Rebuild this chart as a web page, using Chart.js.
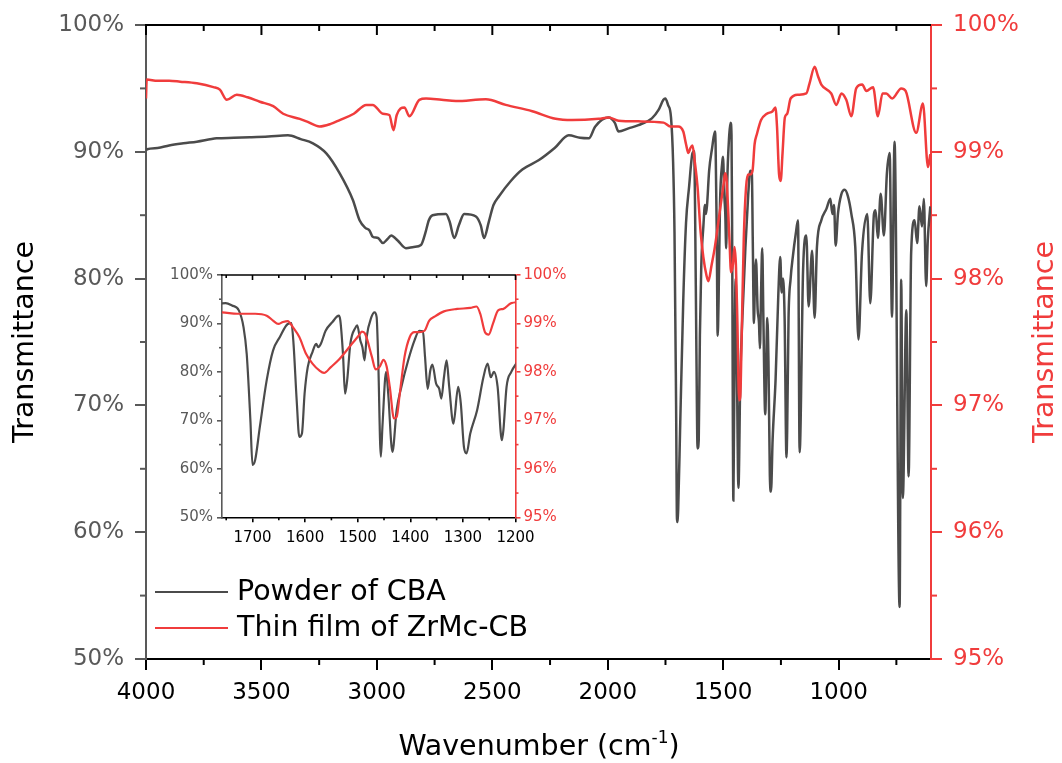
<!DOCTYPE html>
<html>
<head>
<meta charset="utf-8">
<script src="https://cdn.jsdelivr.net/npm/chart.js@4.4.1/dist/chart.umd.min.js"></script>
<style>
  body { margin: 0; background: #fff; }
  #wrap { position: relative; width: 1062px; height: 763px; }
  #main { position: absolute; left: 0; top: 0; }
  #inset { position: absolute; left: 160px; top: 262px; }
</style>
</head>
<body>
<div id="wrap">
  <canvas id="main" width="1062" height="763"></canvas>
  <canvas id="inset" width="420" height="290"></canvas>
</div>
<script>
// ---- data ----
const seriesNames = ["Powder of CBA", "Thin film of ZrMc-CB"];

const cbaWavenumber = [4000, 3996, 3950, 3900, 3838, 3780, 3694, 3620, 3550, 3470, 3385, 3330, 3277, 3219, 3161, 3104, 3075, 3050, 3032, 3018, 2995, 2974, 2955, 2938, 2910, 2874, 2840, 2809, 2790, 2775, 2759, 2701, 2685, 2665, 2645, 2622, 2571, 2550, 2536, 2515, 2495, 2471, 2420, 2370, 2298, 2230, 2169, 2120, 2082, 2054, 1996, 1970, 1953, 1910, 1867, 1809, 1780, 1759,
  1751, 1739, 1726, 1717, 1711, 1704, 1700, 1695, 1686, 1673, 1661, 1648, 1633, 1626, 1622, 1616, 1611, 1606, 1601, 1595, 1586, 1579, 1575, 1570, 1561, 1548, 1536, 1533, 1528, 1524, 1520, 1514, 1504, 1501, 1495, 1491, 1487, 1483, 1474, 1468, 1464, 1461, 1456, 1453, 1446, 1442, 1434, 1426, 1417, 1404, 1392, 1383, 1376, 1372, 1367, 1362, 1358, 1351, 1345, 1341, 1336, 1331, 1326, 1318, 1309, 1304, 1298, 1293, 1286, 1273, 1261, 1253, 1247, 1241, 1234, 1226, 1223, 1217, 1208,
  1198, 1186, 1176, 1169, 1154, 1140, 1130, 1115, 1104, 1094, 1075, 1053, 1036, 1027, 1020, 1013, 1003, 989, 974, 960, 945, 928, 914, 899, 876, 863, 847, 840, 830, 818, 804, 791, 779, 769, 758, 736, 729, 722, 707, 697, 686, 671, 660, 650, 639, 631, 621, 614, 603];
const cbaTransmittance = [90.1, 90.2, 90.3, 90.5, 90.67, 90.8, 91.06, 91.1, 91.14, 91.2, 91.3, 91.0, 90.67, 89.88, 88.3, 86.2, 84.6, 84.0, 83.8, 83.3, 83.2, 82.8, 83.1, 83.4, 83.0, 82.4, 82.5, 82.65, 83.6, 84.6, 85.0, 85.1, 84.5, 83.2, 84.2, 85.1, 84.9, 84.2, 83.2, 84.5, 85.8, 86.5, 87.7, 88.6, 89.35, 90.3, 91.3, 91.1, 91.06, 92.0, 92.7, 92.3, 91.6, 91.85, 92.1, 92.64, 93.3, 94.1,
  94.2, 93.7, 92.7, 89.2, 83.7, 70.0, 60.8, 61.8, 68.7, 78.3, 84.4, 87.2, 89.9, 90.05, 85.8, 74.1, 66.6, 67.3, 75.5, 81.0, 84.1, 85.8, 85.1, 85.8, 88.5, 90.3, 91.6, 90.6, 83.7, 75.5, 78.3, 85.8, 89.2, 89.6, 86.5, 85.1, 82.4, 87.2, 91.3, 92.3, 91.3, 82.4, 62.5, 68.7, 80.0, 75.5, 63.5, 72.1, 76.9, 82.4, 86.5, 88.5, 88.4, 83.1, 76.5, 80.3, 81.5, 77.6, 76.5, 74.5, 78.9, 82.4, 76.9, 69.3, 76.9, 73.5, 64.5, 63.2, 67.3, 72.1, 78.9, 81.7, 78.9, 80.0, 76.9, 65.9, 68.0, 76.9, 80.0,
  81.8, 83.5, 84.6, 66.3, 80.7, 83.4, 77.8, 82.2, 76.9, 82.5, 84.6, 85.5, 86.3, 85.1, 85.8, 82.6, 85.1, 86.6, 87.0, 86.5, 85.1, 82.5, 75.2, 82.0, 85.1, 78.05, 85.1, 85.4, 83.2, 86.7, 83.4, 88.3, 89.9, 77.0, 90.8, 54.1, 79.9, 62.7, 77.5, 64.4, 82.0, 84.6, 82.8, 85.7, 84.1, 86.3, 79.4, 83.0, 85.7];

const filmWavenumber = [4000, 3997, 3950, 3900, 3852, 3780, 3708, 3680, 3650, 3607, 3560, 3507, 3449, 3406, 3334, 3305, 3248, 3200, 3161, 3100, 3046, 3018, 2974, 2946, 2928, 2914, 2881, 2859, 2816, 2787, 2720, 2658, 2528, 2442, 2327, 2226, 2155, 2039, 1996, 1953, 1867,
  1758, 1729, 1695, 1673, 1661, 1651, 1642, 1633, 1623, 1611, 1598, 1586, 1573, 1564, 1551, 1536, 1511, 1498, 1492, 1486, 1473, 1466, 1458, 1451, 1445, 1439, 1431, 1426, 1420, 1411, 1401, 1392, 1383, 1373, 1364, 1354, 1336, 1311, 1286, 1274, 1267, 1258, 1251, 1243, 1233, 1223, 1208,
  1176, 1140, 1126, 1104, 1090, 1075, 1032, 1010, 988, 967, 945, 924, 898, 880, 851, 830, 810, 794, 768, 729, 710, 664, 635, 613, 603];
const filmTransmittance = [99.42, 99.57, 99.56, 99.56, 99.553, 99.54, 99.51, 99.49, 99.41, 99.45, 99.43, 99.395, 99.36, 99.30, 99.26, 99.24, 99.20, 99.22, 99.25, 99.30, 99.37, 99.37, 99.30, 99.29, 99.17, 99.29, 99.35, 99.28, 99.41, 99.42, 99.41, 99.40, 99.414, 99.37, 99.32, 99.26, 99.25, 99.26, 99.27, 99.245, 99.24,
  99.23, 99.20, 99.20, 99.16, 99.06, 98.99, 99.03, 99.05, 98.92, 98.72, 98.37, 98.17, 98.03, 97.98, 98.10, 98.25, 98.58, 98.75, 98.83, 98.79, 98.31, 98.05, 98.11, 98.25, 98.11, 97.69, 97.04, 97.07, 97.55, 98.31, 98.72, 98.82, 98.82, 98.85, 99.06, 99.14, 99.25, 99.30, 99.32, 99.35, 99.20, 98.82, 98.77, 98.99, 99.27, 99.30, 99.42,
  99.45, 99.46, 99.54, 99.67, 99.60, 99.53, 99.46, 99.37, 99.46, 99.41, 99.28, 99.50, 99.53, 99.48, 99.51, 99.28, 99.46, 99.46, 99.42, 99.50, 99.48, 99.15, 99.38, 98.88, 98.98];

const mainXTicks = [4000, 3500, 3000, 2500, 2000, 1500, 1000];
const mainXMinor = [3750, 3250, 2750, 2250, 1750, 1250, 750];
const mainYTicks = [50, 60, 70, 80, 90, 100];
const mainY2Ticks = [95, 96, 97, 98, 99, 100];
const insetXTicks = [1700, 1600, 1500, 1400, 1300, 1200];
const insetXMinor = [1750, 1650, 1550, 1450, 1350, 1250];

const FONT = '"DejaVu Sans", sans-serif';
const INK = '#4b4b4b';
const GRAY = '#595959';
const RED = '#f03c3c';

function pts(xs, ys) {
  return xs.map((v, i) => ({ x: v, y: ys[i] }));
}
function halves(ticks) {
  return ticks.slice(1).map((v, i) => (v + ticks[i]) / 2);
}

// minor ticks + top frame, drawn from the chart's own scales
const frameTicks = {
  id: 'frameTicks',
  afterDraw(chart, args, o) {
    const { ctx, chartArea: a, scales } = chart;
    const seg = (x1, y1, x2, y2, c) => {
      ctx.strokeStyle = c;
      ctx.beginPath(); ctx.moveTo(x1, y1); ctx.lineTo(x2, y2); ctx.stroke();
    };
    ctx.save();
    ctx.lineWidth = o.lineWidth;
    seg(a.left - 1, a.top, a.right, a.top, '#000');
    o.xMajor.forEach(v => {
      const p = scales.x.getPixelForValue(v);
      seg(p, a.top, p, a.top + o.major, '#000');
    });
    o.xMinor.forEach(v => {
      const p = scales.x.getPixelForValue(v);
      seg(p, a.top, p, a.top + o.minor, '#000');
      seg(p, a.bottom, p, a.bottom + o.minor, '#000');
    });
    halves(o.yTicks).forEach(v => {
      const p = scales.y.getPixelForValue(v);
      seg(a.left - o.minor, p, a.left, p, GRAY);
    });
    halves(o.y2Ticks).forEach(v => {
      const p = scales.y2.getPixelForValue(v);
      seg(a.right, p, a.right + o.minor, p, RED);
    });
    ctx.restore();
  }
};

const legendBox = {
  id: 'legendBox',
  afterDraw(chart, args, o) {
    const ctx = chart.ctx;
    ctx.save();
    ctx.font = o.size + 'px ' + FONT;
    ctx.textBaseline = 'middle';
    chart.data.datasets.forEach((ds, i) => {
      const y = o.rows[i];
      ctx.strokeStyle = ds.borderColor;
      ctx.lineWidth = 2;
      ctx.beginPath(); ctx.moveTo(o.x0, y); ctx.lineTo(o.x1, y); ctx.stroke();
      ctx.fillStyle = '#000';
      ctx.fillText(ds.label, o.textX, y + 1);
    });
    ctx.restore();
  }
};

// x title with a raised "-1", right title reading upwards like the left one
const axisTitles = {
  id: 'axisTitles',
  afterDraw(chart, args, o) {
    const ctx = chart.ctx;
    ctx.save();
    ctx.fillStyle = '#000';
    ctx.textBaseline = 'alphabetic';
    const big = o.size + 'px ' + FONT, small = Math.round(o.size * 0.6) + 'px ' + FONT;
    ctx.font = big;
    const w1 = ctx.measureText(o.text).width, w3 = ctx.measureText(')').width;
    ctx.font = small;
    const w2 = ctx.measureText(o.sup).width;
    let x = o.cx - (w1 + w2 + w3) / 2;
    ctx.font = big; ctx.fillText(o.text, x, o.baseline); x += w1;
    ctx.font = small; ctx.fillText(o.sup, x, o.baseline - o.size * 0.42); x += w2;
    ctx.font = big; ctx.fillText(')', x, o.baseline);

    const a = chart.chartArea;
    ctx.translate(o.rightX, (a.top + a.bottom) / 2);
    ctx.rotate(-Math.PI / 2);
    ctx.font = big;
    ctx.fillStyle = RED;
    ctx.textAlign = 'center';
    ctx.textBaseline = 'middle';
    ctx.fillText(o.yText, 0, 0);
    ctx.restore();
  }
};

function fixedTicks(list) {
  return s => { s.ticks = list.map(v => ({ value: v })); };
}

function makeChart(canvas, cfg) {
  return new Chart(canvas, {
    type: 'line',
    data: {
      datasets: [
        { label: seriesNames[0], data: pts(cbaWavenumber, cbaTransmittance), yAxisID: 'y',
          borderColor: INK, borderWidth: cfg.lw, pointRadius: 0, cubicInterpolationMode: 'monotone', order: 1 },
        { label: seriesNames[1], data: pts(filmWavenumber, filmTransmittance), yAxisID: 'y2',
          borderColor: RED, borderWidth: cfg.lw, pointRadius: 0, cubicInterpolationMode: 'monotone', order: 0 }
      ]
    },
    options: {
      responsive: false,
      animation: false,
      events: [],
      layout: { padding: { top: cfg.top, left: 0, right: 0, bottom: 0 } },
      plugins: {
        legend: { display: false },
        tooltip: { enabled: false },
        frameTicks: cfg.frame,
        legendBox: cfg.legend,
        axisTitles: cfg.titles
      },
      scales: {
        x: {
          type: 'linear', reverse: true, min: cfg.xMin, max: cfg.xMax, position: 'bottom',
          afterBuildTicks: fixedTicks(cfg.xTicks),
          afterFit: s => { s.height = cfg.xH; },
          ticks: { font: { family: FONT, size: cfg.fs }, color: '#000', padding: cfg.xPad, maxRotation: 0, autoSkip: false, callback: v => String(v) },
          grid: { drawOnChartArea: false, drawTicks: true, tickLength: cfg.major, color: '#000', lineWidth: cfg.axw },
          border: { color: '#000', width: cfg.axw }
        },
        y: {
          position: 'left', min: 50, max: 100,
          afterBuildTicks: fixedTicks(mainYTicks),
          afterFit: s => { s.width = cfg.yW; },
          ticks: { font: { family: FONT, size: cfg.fs }, color: GRAY, padding: cfg.yPad, callback: v => v + '%' },
          grid: { drawOnChartArea: false, drawTicks: true, tickLength: cfg.major, color: GRAY, lineWidth: cfg.axw },
          border: { color: GRAY, width: cfg.axw },
          title: cfg.yTitle ? { display: true, text: 'Transmittance', color: '#000', font: { family: FONT, size: 28.5 }, padding: { top: 8, bottom: 0 } } : { display: false }
        },
        y2: {
          position: 'right', min: 95, max: 100,
          afterBuildTicks: fixedTicks(mainY2Ticks),
          afterFit: s => { s.width = cfg.y2W; },
          ticks: { font: { family: FONT, size: cfg.fs }, color: RED, padding: cfg.y2Pad, callback: v => v + '%' },
          grid: { drawOnChartArea: false, drawTicks: true, tickLength: cfg.major, color: RED, lineWidth: cfg.axw },
          border: { color: RED, width: cfg.axw }
        }
      }
    },
    plugins: cfg.plugins
  });
}

makeChart(document.getElementById('main'), {
  lw: 2.5, axw: 2, fs: 23, major: 11, top: 25,
  xMin: 600, xMax: 4000, xTicks: mainXTicks, xH: 104, yW: 146, y2W: 131,
  xPad: 9, yPad: 11, y2Pad: 11, yTitle: true,
  frame: { lineWidth: 2, major: 10, minor: 6, xMajor: mainXTicks, xMinor: mainXMinor, yTicks: mainYTicks, y2Ticks: mainY2Ticks },
  legend: { size: 28.5, x0: 155, x1: 228, textX: 237, rows: [592, 628] },
  titles: { size: 28.5, text: 'Wavenumber (cm', sup: '-1', cx: 539, baseline: 755, rightX: 1046, yText: 'Transmittance' },
  plugins: [frameTicks, legendBox, axisTitles]
});

makeChart(document.getElementById('inset'), {
  lw: 2.2, axw: 1.6, fs: 15, major: 5, top: 12,
  xMin: 1200, xMax: 1758, xTicks: insetXTicks, xH: 34.7, yW: 62, y2W: 64.5,
  xPad: 7, yPad: 4, y2Pad: 3, yTitle: false,
  frame: { lineWidth: 1.6, major: 5, minor: 3, xMajor: insetXTicks, xMinor: insetXMinor, yTicks: mainYTicks, y2Ticks: mainY2Ticks },
  plugins: [frameTicks]
});
</script>
</body>
</html>
